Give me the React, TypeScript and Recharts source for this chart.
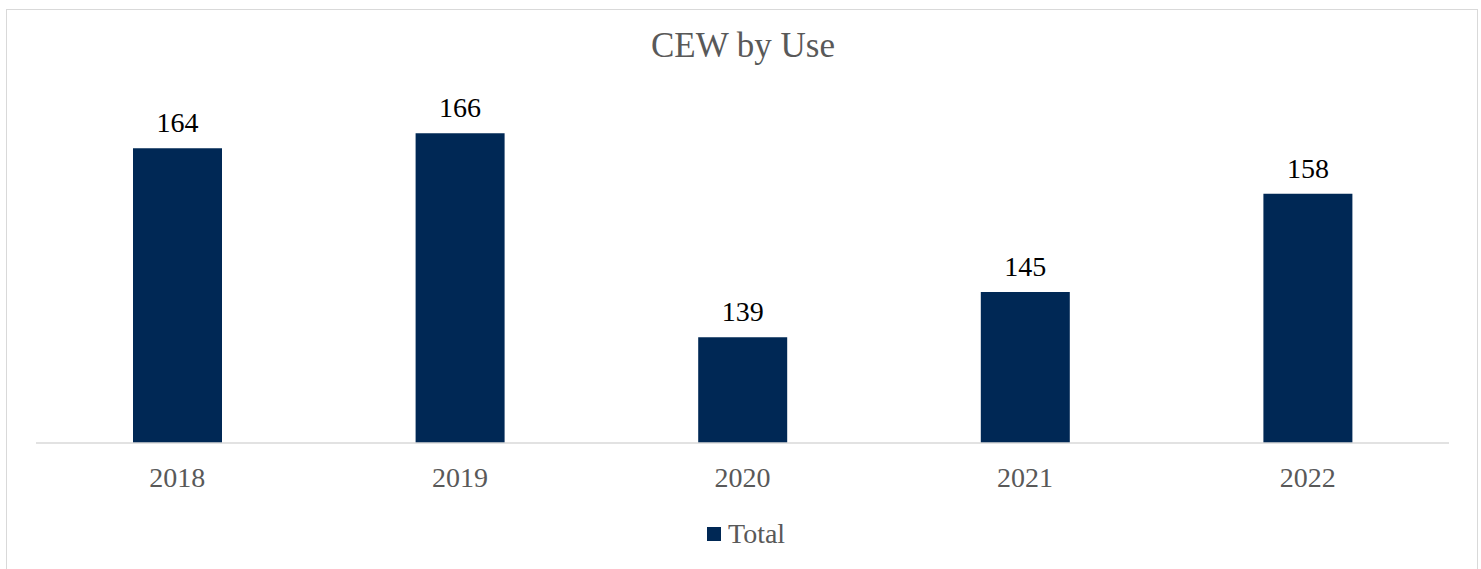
import React from "react";
import { BarChart, Bar, XAxis, YAxis, Legend, LabelList } from "recharts";

const years = ["2018", "2019", "2020", "2021", "2022"];
const totals = [164, 166, 139, 145, 158];
const seriesName = "Total";
const chartTitle = "CEW by Use";

const data = years.map((year, i) => ({ year, total: totals[i] }));

const FONT = '"Liberation Serif", "Times New Roman", serif';
const NAVY = "#002855";
const GREY = "#595959";

const LegendContent = () => (
    <div style={{ display: "flex", alignItems: "center", height: 28, fontFamily: FONT }}>
        <span style={{ display: "inline-block", width: 14, height: 14, background: NAVY, marginRight: 7 }} />
        <span style={{ fontSize: 28, lineHeight: "28px", color: GREY }}>{seriesName}</span>
    </div>
);

export default function App() {
    return (
        <div style={{ position: "absolute", left: 0, top: 0, width: 1481, height: 569, overflow: "hidden", background: "#fff" }}>
            <div
                style={{
                    position: "absolute",
                    left: 6,
                    top: 9,
                    width: 1472,
                    height: 700,
                    border: "1.5px solid #d9d9d9",
                    boxSizing: "border-box",
                }}
            />
            <div
                style={{
                    position: "absolute",
                    left: 0,
                    width: 1486,
                    top: 28,
                    textAlign: "center",
                    fontFamily: FONT,
                    fontSize: 35,
                    lineHeight: "35px",
                    color: GREY,
                }}
            >
                {chartTitle}
            </div>
            <div style={{ position: "absolute", left: 0, top: 0 }}>
                <BarChart
                    width={1481}
                    height={569}
                    data={data}
                    margin={{ top: 103, right: 32, left: 36, bottom: 76 }}
                    barCategoryGap={0}
                >
                    <XAxis
                        dataKey="year"
                        height={50}
                        tickLine={false}
                        tickSize={6}
                        tickMargin={18}
                        axisLine={{ stroke: "#d9d9d9", strokeWidth: 1.5 }}
                        tick={{ fill: GREY, fontSize: 28, fontFamily: FONT }}
                    />
                    <YAxis hide domain={[125, 170]} allowDataOverflow />
                    <Legend
                        layout="horizontal"
                        verticalAlign="middle"
                        align="center"
                        wrapperStyle={{ top: 520, left: 707, width: 120, margin: 0, padding: 0 }}
                        content={<LegendContent />}
                    />
                    <Bar dataKey="total" name={seriesName} fill={NAVY} barSize={89} isAnimationActive={false}>
                        <LabelList
                            dataKey="total"
                            position="top"
                            offset={16}
                            fill="#000"
                            fontSize={28}
                            fontFamily={FONT}
                        />
                    </Bar>
                </BarChart>
            </div>
        </div>
    );
}
